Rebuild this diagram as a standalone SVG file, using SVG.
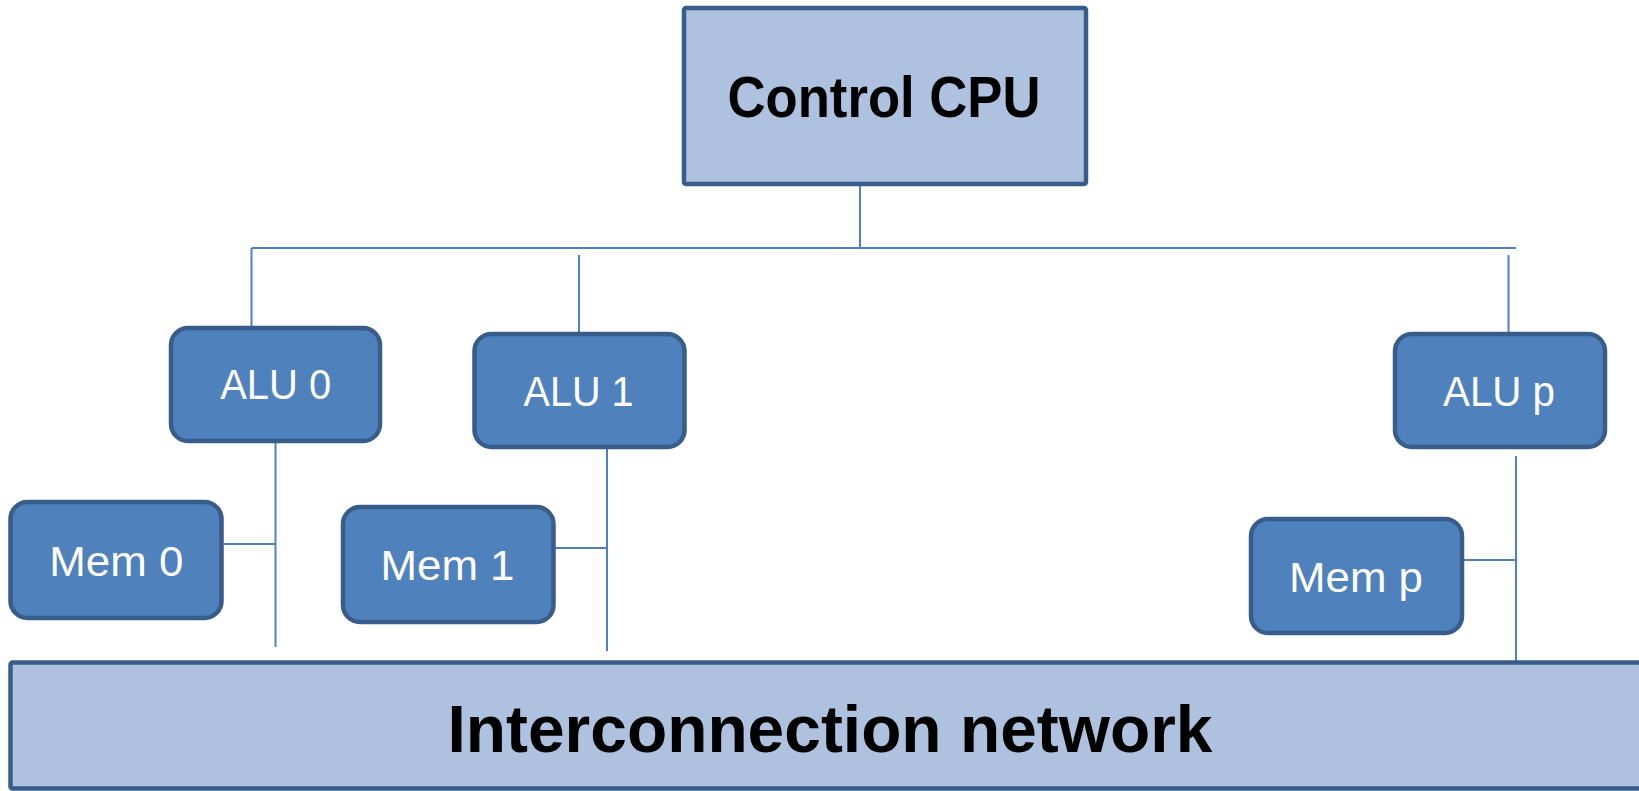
<svg xmlns="http://www.w3.org/2000/svg" width="1639" height="791" viewBox="0 0 1639 791">
<style>
.big{fill:#AEC2E0;stroke:#385D8A;stroke-width:4.5}
.alu{fill:#4F81BD;stroke:#385D8A;stroke-width:4.5}
.lbl{font-family:"Liberation Sans",Arial,sans-serif;font-size:43px;fill:#FFFFFF;text-anchor:middle}
.blbl{font-family:"Liberation Sans",Arial,sans-serif;font-weight:bold;fill:#000000;text-anchor:middle}
.conn{stroke:#4F81BD;stroke-width:2;fill:none}
</style>
<rect width="1639" height="791" fill="#FFFFFF"/>
<g id="connectors">
<line class="conn" x1="860" y1="185" x2="860" y2="248"/>
<line class="conn" x1="251.5" y1="248" x2="1516" y2="248"/>
<line class="conn" x1="251.5" y1="248" x2="251.5" y2="327"/>
<line class="conn" x1="579" y1="255" x2="579" y2="333"/>
<line class="conn" x1="1508.5" y1="255" x2="1508.5" y2="333"/>
<line class="conn" x1="275.5" y1="442" x2="275.5" y2="647"/>
<line class="conn" x1="222" y1="544" x2="275.5" y2="544"/>
<line class="conn" x1="607" y1="448" x2="607" y2="651"/>
<line class="conn" x1="554" y1="548" x2="607" y2="548"/>
<line class="conn" x1="1516" y1="456" x2="1516" y2="662"/>
<line class="conn" x1="1462" y1="560" x2="1516" y2="560"/>
</g>
<g id="control-cpu">
<rect class="big" x="684" y="8" width="402" height="176" rx="2"/>
<text class="blbl" x="884" y="117" font-size="58" textLength="313" lengthAdjust="spacingAndGlyphs">Control CPU</text>
</g>
<g id="alu0">
<rect class="alu" x="171" y="328" width="209" height="113" rx="17"/>
<text class="lbl" x="275.7" y="399" textLength="111" lengthAdjust="spacingAndGlyphs">ALU 0</text>
</g>
<g id="alu1">
<rect class="alu" x="474.5" y="334" width="210" height="113" rx="17"/>
<text class="lbl" x="578.5" y="406" textLength="110" lengthAdjust="spacingAndGlyphs">ALU 1</text>
</g>
<g id="alup">
<rect class="alu" x="1395" y="334" width="210" height="113" rx="17"/>
<text class="lbl" x="1499" y="406" textLength="112" lengthAdjust="spacingAndGlyphs">ALU p</text>
</g>
<g id="mem0">
<rect class="alu" x="10.5" y="502" width="211" height="116" rx="17"/>
<text class="lbl" x="116.3" y="576" textLength="134" lengthAdjust="spacingAndGlyphs">Mem 0</text>
</g>
<g id="mem1">
<rect class="alu" x="343" y="507" width="210.5" height="115" rx="17"/>
<text class="lbl" x="447.5" y="580" textLength="134" lengthAdjust="spacingAndGlyphs">Mem 1</text>
</g>
<g id="memp">
<rect class="alu" x="1251" y="519" width="211" height="114" rx="17"/>
<text class="lbl" x="1356" y="592" textLength="134" lengthAdjust="spacingAndGlyphs">Mem p</text>
</g>
<g id="interconnection-network">
<rect class="big" x="10.5" y="662.5" width="1660" height="126" rx="2"/>
<text class="blbl" x="830" y="752" font-size="66" textLength="765" lengthAdjust="spacingAndGlyphs">Interconnection network</text>
</g>
</svg>
